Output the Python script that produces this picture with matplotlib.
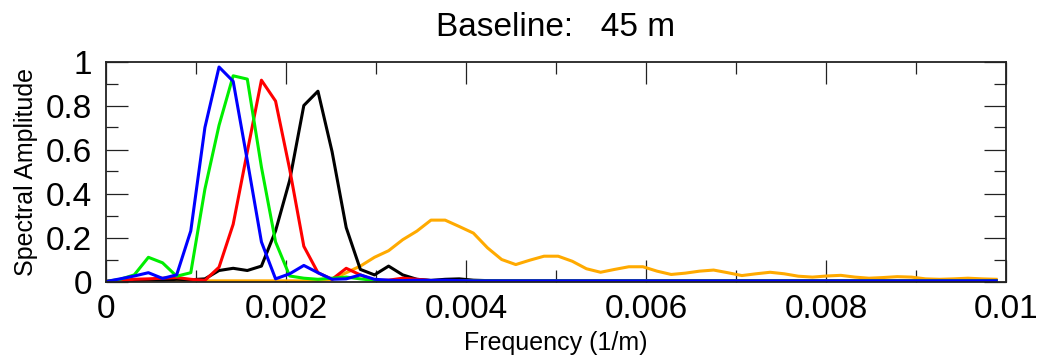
import numpy as np
import matplotlib
matplotlib.use('Agg')
import matplotlib.pyplot as plt
from matplotlib.ticker import MultipleLocator, FixedLocator, FixedFormatter

# sampling grid of the spectra (1/m)
freq_step = 0.000157
n_samples = 64

# spectral amplitude, one list per curve
amp_orange = [0.003, 0.003, 0.003, 0.003, 0.003, 0.003, 0.003, 0.003, 0.003, 0.003,
              0.003, 0.003, 0.003, 0.003, 0.003, 0.005, 0.01, 0.04, 0.07, 0.11,
              0.14, 0.19, 0.229, 0.279, 0.279, 0.25, 0.22, 0.153, 0.10, 0.077,
              0.097, 0.115, 0.115, 0.092, 0.058, 0.042, 0.055, 0.067, 0.067, 0.047,
              0.032, 0.038, 0.047, 0.052, 0.04, 0.027, 0.035, 0.042, 0.035, 0.024,
              0.02, 0.025, 0.028, 0.02, 0.015, 0.018, 0.022, 0.02, 0.012, 0.01,
              0.012, 0.015, 0.012, 0.01]
amp_black = [0.0, 0.003, 0.005, 0.008, 0.006, 0.01, 0.008, 0.012, 0.05, 0.06,
             0.05, 0.07, 0.23, 0.46, 0.80, 0.865, 0.59, 0.245, 0.055, 0.03,
             0.07, 0.03, 0.01, 0.005, 0.01, 0.012, 0.006, 0.004, 0.003, 0.003,
             0.003, 0.003, 0.003, 0.003, 0.003, 0.003, 0.003, 0.003, 0.003, 0.003,
             0.003, 0.003, 0.003, 0.003, 0.003, 0.003, 0.003, 0.003, 0.003, 0.003,
             0.003, 0.003, 0.003, 0.003, 0.003, 0.003, 0.003, 0.003, 0.003, 0.003,
             0.003, 0.003, 0.003, 0.003]
amp_red = [0.0, 0.005, 0.01, 0.012, 0.015, 0.018, 0.01, 0.005, 0.065, 0.26,
           0.59, 0.915, 0.82, 0.51, 0.16, 0.04, 0.01, 0.06, 0.03, 0.005,
           0.006, 0.015, 0.01, 0.004, 0.003, 0.003, 0.003, 0.003, 0.003, 0.003,
           0.003, 0.003, 0.003, 0.003, 0.003, 0.003, 0.003, 0.003, 0.003, 0.003,
           0.003, 0.003, 0.003, 0.003, 0.003, 0.003, 0.003, 0.003, 0.003, 0.003,
           0.003, 0.003, 0.003, 0.003, 0.003, 0.003, 0.003, 0.003, 0.003, 0.003,
           0.003, 0.003, 0.003, 0.003]
amp_green = [0.0, 0.01, 0.03, 0.11, 0.085, 0.024, 0.04, 0.42, 0.71, 0.935,
             0.92, 0.52, 0.18, 0.025, 0.015, 0.01, 0.015, 0.02, 0.012, 0.005,
             0.003, 0.003, 0.003, 0.003, 0.003, 0.003, 0.003, 0.003, 0.003, 0.003,
             0.003, 0.003, 0.003, 0.003, 0.003, 0.003, 0.003, 0.003, 0.003, 0.003,
             0.003, 0.003, 0.003, 0.003, 0.003, 0.003, 0.003, 0.003, 0.003, 0.003,
             0.003, 0.003, 0.003, 0.003, 0.003, 0.003, 0.003, 0.003, 0.003, 0.003,
             0.003, 0.003, 0.003, 0.003]
amp_blue = [0.0, 0.012, 0.025, 0.04, 0.014, 0.03, 0.23, 0.70, 0.975, 0.91,
            0.55, 0.18, 0.012, 0.035, 0.073, 0.04, 0.01, 0.012, 0.03, 0.01,
            0.006, 0.004, 0.006, 0.005, 0.006, 0.004, 0.003, 0.003, 0.003, 0.003,
            0.003, 0.003, 0.003, 0.003, 0.003, 0.003, 0.003, 0.003, 0.003, 0.003,
            0.003, 0.003, 0.003, 0.003, 0.003, 0.003, 0.003, 0.003, 0.003, 0.003,
            0.003, 0.003, 0.003, 0.003, 0.003, 0.003, 0.003, 0.003, 0.003, 0.003,
            0.003, 0.003, 0.003, 0.003]

xtick_values = [0, 0.002, 0.004, 0.006, 0.008, 0.01]
xtick_labels = ['0', '0.002', '0.004', '0.006', '0.008', '0.01']
ytick_values = [0, 0.2, 0.4, 0.6, 0.8, 1.0]
ytick_labels = ['0', '0.2', '0.4', '0.6', '0.8', '1']

freq = freq_step * np.arange(n_samples)

plt.rcParams['font.family'] = ['Liberation Sans', 'DejaVu Sans']

# canvas
fig = plt.figure(figsize=(10.39, 3.56), dpi=100)
ax = fig.add_axes([106 / 1039, 74.5 / 356, 900 / 1039, 220 / 356])

# curves (drawn back to front)
series = [(amp_orange, '#ffaa00'), (amp_black, 'black'), (amp_red, '#ff0000'),
          (amp_green, '#00ee00'), (amp_blue, '#0000ff')]
for amp, col in series:
    ax.plot(freq, amp, color=col, lw=2.2)

ax.set_xlim(0, 0.01)
ax.set_ylim(0, 1)

# IDL-like ticks: inward, on all four sides
ax.xaxis.set_major_locator(FixedLocator(xtick_values))
ax.xaxis.set_major_formatter(FixedFormatter(xtick_labels))
ax.yaxis.set_major_locator(FixedLocator(ytick_values))
ax.yaxis.set_major_formatter(FixedFormatter(ytick_labels))
ax.xaxis.set_minor_locator(MultipleLocator(0.001))
ax.yaxis.set_minor_locator(MultipleLocator(0.1))
ax.tick_params(which='both', direction='in', top=True, right=True, width=0.9, color='#222222')
ax.tick_params(which='major', length=16, labelsize=24, pad=9)
ax.tick_params(which='minor', length=8.5)
ax.tick_params(axis='y', which='major', pad=10)
for sp in ax.spines.values():
    sp.set_linewidth(1.3)
    sp.set_color('#222222')

ax.set_title('Baseline:   45 m', fontsize=24, pad=18)
ax.set_xlabel('Frequency (1/m)', fontsize=18, labelpad=4)
ax.set_ylabel('Spectral Amplitude', fontsize=18, labelpad=6)

fig.savefig('out.png', dpi=100)
